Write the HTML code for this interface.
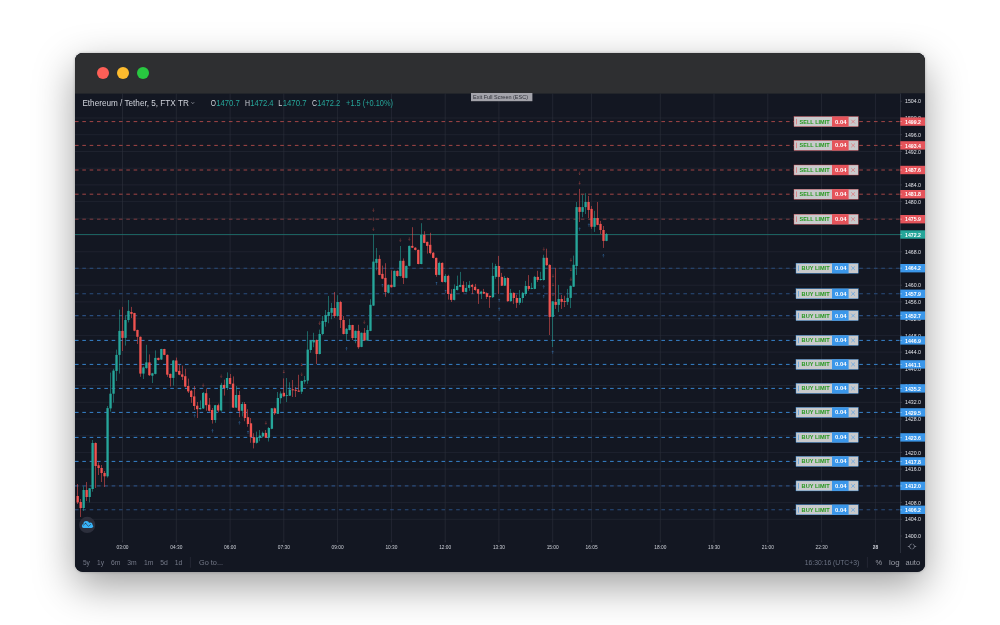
<!DOCTYPE html><html><head><meta charset="utf-8"><title>Ethereum / Tether chart</title>
<style>
html,body{margin:0;padding:0;background:#fff}
body{width:1000px;height:625px;position:relative;overflow:hidden;font-family:"Liberation Sans",sans-serif}
#win{position:absolute;left:75px;top:53px;width:850px;height:518.6px;border-radius:8px;background:#131722;
box-shadow:0 14px 40px rgba(0,0,0,.38),0 0 3px rgba(0,0,0,.25)}
svg{position:absolute;left:0;top:0}
text{font-family:"Liberation Sans",sans-serif}
</style></head><body><div id="win"></div>
<svg width="1000" height="625" viewBox="0 0 1000 625">
<defs><clipPath id="wc"><rect x="75" y="53" width="850" height="518.6" rx="8" ry="8"/></clipPath><clipPath id="pane"><rect x="75" y="93.5" width="825.3" height="447"/></clipPath></defs>
<g clip-path="url(#wc)">
<rect x="75" y="53" width="850" height="519" fill="#131722"/>
<rect x="75" y="53" width="850" height="40.6" fill="#2e2f31"/>
<circle cx="103" cy="73" r="6" fill="#fe5f57"/>
<circle cx="123" cy="73" r="6" fill="#febc2e"/>
<circle cx="143" cy="73" r="6" fill="#28c840"/>
<g stroke="#262a37" stroke-width="0.6">
<line x1="75" x2="900.3" y1="118.0" y2="118.0"/>
<line x1="75" x2="900.3" y1="134.7" y2="134.7"/>
<line x1="75" x2="900.3" y1="151.5" y2="151.5"/>
<line x1="75" x2="900.3" y1="168.2" y2="168.2"/>
<line x1="75" x2="900.3" y1="184.9" y2="184.9"/>
<line x1="75" x2="900.3" y1="201.6" y2="201.6"/>
<line x1="75" x2="900.3" y1="218.3" y2="218.3"/>
<line x1="75" x2="900.3" y1="235.1" y2="235.1"/>
<line x1="75" x2="900.3" y1="251.8" y2="251.8"/>
<line x1="75" x2="900.3" y1="268.5" y2="268.5"/>
<line x1="75" x2="900.3" y1="285.2" y2="285.2"/>
<line x1="75" x2="900.3" y1="301.9" y2="301.9"/>
<line x1="75" x2="900.3" y1="318.7" y2="318.7"/>
<line x1="75" x2="900.3" y1="335.4" y2="335.4"/>
<line x1="75" x2="900.3" y1="352.1" y2="352.1"/>
<line x1="75" x2="900.3" y1="368.8" y2="368.8"/>
<line x1="75" x2="900.3" y1="385.5" y2="385.5"/>
<line x1="75" x2="900.3" y1="402.3" y2="402.3"/>
<line x1="75" x2="900.3" y1="419.0" y2="419.0"/>
<line x1="75" x2="900.3" y1="435.7" y2="435.7"/>
<line x1="75" x2="900.3" y1="452.4" y2="452.4"/>
<line x1="75" x2="900.3" y1="469.1" y2="469.1"/>
<line x1="75" x2="900.3" y1="485.9" y2="485.9"/>
<line x1="75" x2="900.3" y1="502.6" y2="502.6"/>
<line x1="75" x2="900.3" y1="519.3" y2="519.3"/>
<line x1="122.5" x2="122.5" y1="93.5" y2="540.5" stroke="#2d313d"/>
<line x1="176.3" x2="176.3" y1="93.5" y2="540.5" stroke="#2d313d"/>
<line x1="230.1" x2="230.1" y1="93.5" y2="540.5" stroke="#2d313d"/>
<line x1="283.8" x2="283.8" y1="93.5" y2="540.5" stroke="#2d313d"/>
<line x1="337.6" x2="337.6" y1="93.5" y2="540.5" stroke="#2d313d"/>
<line x1="391.4" x2="391.4" y1="93.5" y2="540.5" stroke="#2d313d"/>
<line x1="445.2" x2="445.2" y1="93.5" y2="540.5" stroke="#2d313d"/>
<line x1="498.9" x2="498.9" y1="93.5" y2="540.5" stroke="#2d313d"/>
<line x1="552.7" x2="552.7" y1="93.5" y2="540.5" stroke="#2d313d"/>
<line x1="591.6" x2="591.6" y1="93.5" y2="540.5" stroke="#2d313d"/>
<line x1="660.3" x2="660.3" y1="93.5" y2="540.5" stroke="#2d313d"/>
<line x1="714.0" x2="714.0" y1="93.5" y2="540.5" stroke="#2d313d"/>
<line x1="767.8" x2="767.8" y1="93.5" y2="540.5" stroke="#2d313d"/>
<line x1="821.6" x2="821.6" y1="93.5" y2="540.5" stroke="#2d313d"/>
<line x1="875.4" x2="875.4" y1="93.5" y2="540.5" stroke="#2d313d"/>
</g>
<g clip-path="url(#pane)">
<line x1="75" x2="900" y1="121.6" y2="121.6" stroke="#c8524f" stroke-width="0.8" stroke-dasharray="3.6 3.73"/>
<line x1="75" x2="900" y1="145.4" y2="145.4" stroke="#c8524f" stroke-width="0.8" stroke-dasharray="3.6 3.73"/>
<line x1="75" x2="900" y1="170" y2="170" stroke="#c8524f" stroke-width="0.8" stroke-dasharray="3.6 3.73"/>
<line x1="75" x2="900" y1="194.2" y2="194.2" stroke="#c8524f" stroke-width="0.8" stroke-dasharray="3.6 3.73"/>
<line x1="75" x2="900" y1="219.2" y2="219.2" stroke="#9a454a" stroke-width="0.8" stroke-dasharray="3.6 3.73"/>
<line x1="75" x2="900" y1="268.2" y2="268.2" stroke="#2a4d7e" stroke-width="1.1" stroke-dasharray="3.6 3.73"/>
<line x1="75" x2="900" y1="293.8" y2="293.8" stroke="#2a4d7e" stroke-width="1.1" stroke-dasharray="3.6 3.73"/>
<line x1="75" x2="900" y1="315.6" y2="315.6" stroke="#2a4d7e" stroke-width="1.1" stroke-dasharray="3.6 3.73"/>
<line x1="75" x2="900" y1="340.4" y2="340.4" stroke="#3d97ec" stroke-width="0.85" stroke-dasharray="3.6 3.73"/>
<line x1="75" x2="900" y1="364.4" y2="364.4" stroke="#3d97ec" stroke-width="0.85" stroke-dasharray="3.6 3.73"/>
<line x1="75" x2="900" y1="388.4" y2="388.4" stroke="#3d97ec" stroke-width="0.85" stroke-dasharray="3.6 3.73"/>
<line x1="75" x2="900" y1="412.4" y2="412.4" stroke="#3d97ec" stroke-width="0.85" stroke-dasharray="3.6 3.73"/>
<line x1="75" x2="900" y1="437.4" y2="437.4" stroke="#3d97ec" stroke-width="0.85" stroke-dasharray="3.6 3.73"/>
<line x1="75" x2="900" y1="461.4" y2="461.4" stroke="#3d97ec" stroke-width="0.85" stroke-dasharray="3.6 3.73"/>
<line x1="75" x2="900" y1="485.9" y2="485.9" stroke="#2a4d7e" stroke-width="1.1" stroke-dasharray="3.6 3.73"/>
<line x1="75" x2="900" y1="509.8" y2="509.8" stroke="#2a4d7e" stroke-width="1.1" stroke-dasharray="3.6 3.73"/>
<line x1="75" x2="900" y1="234.5" y2="234.5" stroke="#1e7a73" stroke-width="0.75"/>
<rect x="77.20" y="484.0" width="0.55" height="20.0" fill="#ef5350"/>
<rect x="76.52" y="496.0" width="2.34" height="6.4" fill="#ef5350"/>
<rect x="80.20" y="499.0" width="0.55" height="18.0" fill="#ef5350"/>
<rect x="79.50" y="502.0" width="2.34" height="6.0" fill="#ef5350"/>
<rect x="83.20" y="486.4" width="0.55" height="24.6" fill="#26a69a"/>
<rect x="82.49" y="490.0" width="2.34" height="18.0" fill="#26a69a"/>
<rect x="86.20" y="482.0" width="0.55" height="19.0" fill="#ef5350"/>
<rect x="85.48" y="490.0" width="2.34" height="7.0" fill="#ef5350"/>
<rect x="89.20" y="488.0" width="0.55" height="14.4" fill="#26a69a"/>
<rect x="88.47" y="488.3" width="2.34" height="8.7" fill="#26a69a"/>
<rect x="92.20" y="440.0" width="0.55" height="51.7" fill="#26a69a"/>
<rect x="91.45" y="443.0" width="2.34" height="46.0" fill="#26a69a"/>
<rect x="95.20" y="442.4" width="0.55" height="45.6" fill="#ef5350"/>
<rect x="94.44" y="443.0" width="2.34" height="23.0" fill="#ef5350"/>
<rect x="98.20" y="462.4" width="0.55" height="12.6" fill="#ef5350"/>
<rect x="97.43" y="465.3" width="2.34" height="2.7" fill="#ef5350"/>
<rect x="101.20" y="465.0" width="0.55" height="17.0" fill="#ef5350"/>
<rect x="100.42" y="468.0" width="2.34" height="5.0" fill="#ef5350"/>
<rect x="104.20" y="471.0" width="0.55" height="16.0" fill="#ef5350"/>
<rect x="103.40" y="473.0" width="2.34" height="3.3" fill="#ef5350"/>
<rect x="107.20" y="406.0" width="0.55" height="71.6" fill="#26a69a"/>
<rect x="106.39" y="408.1" width="2.34" height="68.2" fill="#26a69a"/>
<rect x="110.20" y="372.6" width="0.55" height="39.0" fill="#26a69a"/>
<rect x="109.38" y="393.7" width="2.34" height="14.7" fill="#26a69a"/>
<rect x="113.20" y="368.8" width="0.55" height="33.8" fill="#26a69a"/>
<rect x="112.37" y="370.6" width="2.34" height="23.1" fill="#26a69a"/>
<rect x="116.20" y="349.6" width="0.55" height="31.4" fill="#26a69a"/>
<rect x="115.35" y="354.9" width="2.34" height="16.0" fill="#26a69a"/>
<rect x="119.20" y="309.6" width="0.55" height="64.0" fill="#26a69a"/>
<rect x="118.34" y="330.9" width="2.34" height="24.0" fill="#26a69a"/>
<rect x="122.20" y="306.9" width="0.55" height="44.1" fill="#ef5350"/>
<rect x="121.33" y="330.9" width="2.34" height="7.0" fill="#ef5350"/>
<rect x="125.20" y="315.0" width="0.55" height="30.6" fill="#26a69a"/>
<rect x="124.32" y="320.0" width="2.34" height="17.9" fill="#26a69a"/>
<rect x="128.20" y="300.0" width="0.55" height="22.4" fill="#26a69a"/>
<rect x="127.31" y="310.9" width="2.34" height="9.1" fill="#26a69a"/>
<rect x="131.20" y="306.9" width="0.55" height="11.1" fill="#ef5350"/>
<rect x="130.29" y="312.0" width="2.34" height="1.9" fill="#ef5350"/>
<rect x="134.20" y="312.8" width="0.55" height="18.4" fill="#ef5350"/>
<rect x="133.28" y="313.0" width="2.34" height="17.7" fill="#ef5350"/>
<rect x="137.20" y="329.6" width="0.55" height="14.4" fill="#ef5350"/>
<rect x="136.27" y="330.0" width="2.34" height="6.8" fill="#ef5350"/>
<rect x="140.20" y="336.5" width="0.55" height="40.3" fill="#ef5350"/>
<rect x="139.26" y="336.8" width="2.34" height="36.8" fill="#ef5350"/>
<rect x="143.20" y="366.4" width="0.55" height="12.6" fill="#26a69a"/>
<rect x="142.24" y="367.5" width="2.34" height="6.1" fill="#26a69a"/>
<rect x="146.20" y="344.8" width="0.55" height="24.0" fill="#26a69a"/>
<rect x="145.23" y="362.4" width="2.34" height="5.6" fill="#26a69a"/>
<rect x="149.20" y="354.4" width="0.55" height="21.6" fill="#ef5350"/>
<rect x="148.22" y="362.4" width="2.34" height="12.8" fill="#ef5350"/>
<rect x="152.20" y="372.8" width="0.55" height="10.2" fill="#26a69a"/>
<rect x="151.21" y="373.3" width="2.34" height="2.4" fill="#26a69a"/>
<rect x="155.20" y="350.4" width="0.55" height="24.0" fill="#26a69a"/>
<rect x="154.19" y="357.9" width="2.34" height="16.0" fill="#26a69a"/>
<rect x="158.20" y="357.6" width="0.55" height="2.9" fill="#ef5350"/>
<rect x="157.18" y="357.9" width="2.34" height="2.1" fill="#ef5350"/>
<rect x="161.20" y="348.8" width="0.55" height="11.2" fill="#26a69a"/>
<rect x="160.17" y="349.0" width="2.34" height="10.5" fill="#26a69a"/>
<rect x="164.20" y="348.8" width="0.55" height="6.4" fill="#ef5350"/>
<rect x="163.16" y="349.0" width="2.34" height="5.9" fill="#ef5350"/>
<rect x="167.20" y="354.4" width="0.55" height="22.4" fill="#ef5350"/>
<rect x="166.14" y="354.9" width="2.34" height="19.8" fill="#ef5350"/>
<rect x="170.20" y="373.6" width="0.55" height="12.8" fill="#ef5350"/>
<rect x="169.13" y="373.9" width="2.34" height="4.0" fill="#ef5350"/>
<rect x="173.20" y="360.0" width="0.55" height="25.6" fill="#26a69a"/>
<rect x="172.12" y="360.5" width="2.34" height="17.4" fill="#26a69a"/>
<rect x="176.20" y="357.6" width="0.55" height="14.4" fill="#ef5350"/>
<rect x="175.11" y="360.5" width="2.34" height="11.2" fill="#ef5350"/>
<rect x="179.20" y="364.8" width="0.55" height="10.4" fill="#ef5350"/>
<rect x="178.09" y="370.9" width="2.34" height="3.8" fill="#ef5350"/>
<rect x="182.20" y="365.6" width="0.55" height="14.4" fill="#ef5350"/>
<rect x="181.08" y="374.4" width="2.34" height="2.4" fill="#ef5350"/>
<rect x="185.20" y="368.8" width="0.55" height="18.4" fill="#ef5350"/>
<rect x="184.07" y="376.2" width="2.34" height="10.4" fill="#ef5350"/>
<rect x="188.20" y="378.6" width="0.55" height="14.4" fill="#ef5350"/>
<rect x="187.06" y="386.0" width="2.34" height="5.4" fill="#ef5350"/>
<rect x="191.20" y="390.0" width="0.55" height="12.8" fill="#ef5350"/>
<rect x="190.04" y="390.8" width="2.34" height="6.2" fill="#ef5350"/>
<rect x="194.20" y="386.0" width="0.55" height="24.0" fill="#ef5350"/>
<rect x="193.03" y="396.4" width="2.34" height="9.6" fill="#ef5350"/>
<rect x="197.20" y="402.0" width="0.55" height="16.0" fill="#ef5350"/>
<rect x="196.02" y="405.7" width="2.34" height="3.5" fill="#ef5350"/>
<rect x="200.20" y="400.4" width="0.55" height="9.1" fill="#26a69a"/>
<rect x="199.01" y="408.0" width="2.34" height="1.2" fill="#26a69a"/>
<rect x="203.20" y="392.0" width="0.55" height="17.0" fill="#26a69a"/>
<rect x="202.00" y="392.9" width="2.34" height="15.5" fill="#26a69a"/>
<rect x="206.20" y="388.4" width="0.55" height="22.4" fill="#ef5350"/>
<rect x="204.98" y="393.2" width="2.34" height="12.0" fill="#ef5350"/>
<rect x="209.20" y="398.0" width="0.55" height="13.6" fill="#ef5350"/>
<rect x="207.97" y="404.7" width="2.34" height="6.1" fill="#ef5350"/>
<rect x="212.20" y="408.0" width="0.55" height="15.6" fill="#ef5350"/>
<rect x="210.96" y="410.0" width="2.34" height="10.0" fill="#ef5350"/>
<rect x="215.20" y="404.9" width="0.55" height="17.9" fill="#26a69a"/>
<rect x="213.95" y="405.2" width="2.34" height="14.8" fill="#26a69a"/>
<rect x="218.20" y="403.6" width="0.55" height="8.8" fill="#ef5350"/>
<rect x="216.93" y="405.2" width="2.34" height="5.3" fill="#ef5350"/>
<rect x="221.20" y="382.8" width="0.55" height="28.8" fill="#26a69a"/>
<rect x="219.92" y="384.9" width="2.34" height="25.6" fill="#26a69a"/>
<rect x="224.20" y="379.6" width="0.55" height="16.0" fill="#ef5350"/>
<rect x="222.91" y="384.9" width="2.34" height="3.1" fill="#ef5350"/>
<rect x="227.20" y="372.4" width="0.55" height="17.6" fill="#26a69a"/>
<rect x="225.90" y="378.0" width="2.34" height="10.0" fill="#26a69a"/>
<rect x="230.20" y="374.0" width="0.55" height="10.4" fill="#ef5350"/>
<rect x="228.88" y="378.0" width="2.34" height="6.0" fill="#ef5350"/>
<rect x="233.20" y="376.4" width="0.55" height="31.6" fill="#ef5350"/>
<rect x="231.87" y="383.6" width="2.34" height="24.0" fill="#ef5350"/>
<rect x="236.20" y="386.0" width="0.55" height="22.0" fill="#26a69a"/>
<rect x="234.86" y="395.0" width="2.34" height="12.6" fill="#26a69a"/>
<rect x="239.20" y="390.8" width="0.55" height="26.4" fill="#ef5350"/>
<rect x="237.85" y="395.0" width="2.34" height="15.8" fill="#ef5350"/>
<rect x="242.20" y="402.0" width="0.55" height="14.4" fill="#26a69a"/>
<rect x="240.83" y="404.0" width="2.34" height="6.8" fill="#26a69a"/>
<rect x="244.20" y="402.0" width="0.55" height="19.2" fill="#ef5350"/>
<rect x="243.82" y="404.0" width="2.34" height="14.0" fill="#ef5350"/>
<rect x="247.20" y="409.2" width="0.55" height="17.6" fill="#ef5350"/>
<rect x="246.81" y="417.2" width="2.34" height="6.8" fill="#ef5350"/>
<rect x="250.20" y="418.0" width="0.55" height="24.8" fill="#ef5350"/>
<rect x="249.80" y="423.3" width="2.34" height="13.9" fill="#ef5350"/>
<rect x="253.20" y="433.2" width="0.55" height="15.2" fill="#ef5350"/>
<rect x="252.78" y="437.2" width="2.34" height="5.6" fill="#ef5350"/>
<rect x="256.20" y="431.6" width="0.55" height="12.0" fill="#26a69a"/>
<rect x="255.77" y="437.2" width="2.34" height="5.6" fill="#26a69a"/>
<rect x="259.20" y="430.0" width="0.55" height="11.2" fill="#26a69a"/>
<rect x="258.76" y="435.6" width="2.34" height="2.1" fill="#26a69a"/>
<rect x="262.20" y="431.6" width="0.55" height="6.1" fill="#26a69a"/>
<rect x="261.75" y="432.9" width="2.34" height="3.5" fill="#26a69a"/>
<rect x="265.20" y="430.0" width="0.55" height="8.0" fill="#ef5350"/>
<rect x="264.73" y="432.9" width="2.34" height="4.8" fill="#ef5350"/>
<rect x="268.20" y="427.0" width="0.55" height="14.5" fill="#26a69a"/>
<rect x="267.72" y="428.0" width="2.34" height="9.7" fill="#26a69a"/>
<rect x="271.20" y="408.0" width="0.55" height="21.2" fill="#26a69a"/>
<rect x="270.71" y="408.3" width="2.34" height="20.5" fill="#26a69a"/>
<rect x="274.20" y="407.6" width="0.55" height="7.4" fill="#ef5350"/>
<rect x="273.70" y="408.3" width="2.34" height="5.0" fill="#ef5350"/>
<rect x="277.20" y="392.0" width="0.55" height="22.0" fill="#26a69a"/>
<rect x="276.69" y="398.0" width="2.34" height="15.8" fill="#26a69a"/>
<rect x="280.20" y="391.4" width="0.55" height="12.2" fill="#26a69a"/>
<rect x="279.67" y="393.5" width="2.34" height="4.7" fill="#26a69a"/>
<rect x="283.20" y="378.4" width="0.55" height="18.3" fill="#ef5350"/>
<rect x="282.66" y="392.8" width="2.34" height="3.5" fill="#ef5350"/>
<rect x="286.20" y="378.0" width="0.55" height="24.0" fill="#26a69a"/>
<rect x="285.65" y="395.0" width="2.34" height="0.8" fill="#26a69a"/>
<rect x="289.20" y="382.3" width="0.55" height="13.7" fill="#26a69a"/>
<rect x="288.64" y="389.6" width="2.34" height="6.1" fill="#26a69a"/>
<rect x="292.20" y="380.0" width="0.55" height="17.0" fill="#ef5350"/>
<rect x="291.62" y="389.3" width="2.34" height="1.0" fill="#ef5350"/>
<rect x="295.20" y="387.0" width="0.55" height="10.0" fill="#ef5350"/>
<rect x="294.61" y="389.8" width="2.34" height="1.0" fill="#ef5350"/>
<rect x="298.20" y="374.8" width="0.55" height="17.2" fill="#ef5350"/>
<rect x="297.60" y="390.6" width="2.34" height="1.1" fill="#ef5350"/>
<rect x="301.20" y="380.6" width="0.55" height="13.4" fill="#26a69a"/>
<rect x="300.59" y="381.0" width="2.34" height="10.7" fill="#26a69a"/>
<rect x="304.20" y="376.0" width="0.55" height="7.8" fill="#26a69a"/>
<rect x="303.57" y="380.2" width="2.34" height="1.3" fill="#26a69a"/>
<rect x="307.20" y="331.2" width="0.55" height="52.6" fill="#26a69a"/>
<rect x="306.56" y="349.6" width="2.34" height="31.0" fill="#26a69a"/>
<rect x="310.20" y="340.0" width="0.55" height="12.8" fill="#26a69a"/>
<rect x="309.55" y="340.5" width="2.34" height="9.5" fill="#26a69a"/>
<rect x="313.20" y="332.8" width="0.55" height="14.4" fill="#26a69a"/>
<rect x="312.54" y="340.0" width="2.34" height="2.4" fill="#26a69a"/>
<rect x="316.20" y="339.5" width="0.55" height="24.5" fill="#ef5350"/>
<rect x="315.52" y="340.0" width="2.34" height="14.0" fill="#ef5350"/>
<rect x="319.20" y="329.6" width="0.55" height="24.8" fill="#26a69a"/>
<rect x="318.51" y="334.0" width="2.34" height="20.0" fill="#26a69a"/>
<rect x="322.20" y="316.0" width="0.55" height="19.2" fill="#26a69a"/>
<rect x="321.50" y="321.0" width="2.34" height="13.0" fill="#26a69a"/>
<rect x="325.20" y="310.0" width="0.55" height="16.7" fill="#26a69a"/>
<rect x="324.49" y="315.2" width="2.34" height="6.8" fill="#26a69a"/>
<rect x="328.20" y="296.0" width="0.55" height="27.2" fill="#26a69a"/>
<rect x="327.47" y="312.0" width="2.34" height="4.0" fill="#26a69a"/>
<rect x="331.20" y="302.9" width="0.55" height="16.3" fill="#26a69a"/>
<rect x="330.46" y="308.0" width="2.34" height="4.8" fill="#26a69a"/>
<rect x="334.20" y="292.0" width="0.55" height="26.0" fill="#ef5350"/>
<rect x="333.45" y="308.0" width="2.34" height="8.0" fill="#ef5350"/>
<rect x="337.20" y="295.2" width="0.55" height="21.6" fill="#26a69a"/>
<rect x="336.44" y="302.0" width="2.34" height="14.0" fill="#26a69a"/>
<rect x="340.20" y="300.8" width="0.55" height="27.2" fill="#ef5350"/>
<rect x="339.42" y="302.0" width="2.34" height="18.0" fill="#ef5350"/>
<rect x="343.20" y="316.0" width="0.55" height="18.4" fill="#ef5350"/>
<rect x="342.41" y="320.0" width="2.34" height="14.0" fill="#ef5350"/>
<rect x="346.20" y="328.0" width="0.55" height="12.0" fill="#26a69a"/>
<rect x="345.40" y="328.8" width="2.34" height="5.2" fill="#26a69a"/>
<rect x="349.20" y="318.9" width="0.55" height="11.5" fill="#26a69a"/>
<rect x="348.39" y="325.0" width="2.34" height="5.0" fill="#26a69a"/>
<rect x="352.20" y="324.8" width="0.55" height="15.2" fill="#ef5350"/>
<rect x="351.38" y="325.0" width="2.34" height="13.0" fill="#ef5350"/>
<rect x="355.20" y="330.4" width="0.55" height="12.8" fill="#26a69a"/>
<rect x="354.36" y="330.9" width="2.34" height="7.1" fill="#26a69a"/>
<rect x="358.20" y="324.8" width="0.55" height="24.0" fill="#ef5350"/>
<rect x="357.35" y="330.9" width="2.34" height="16.3" fill="#ef5350"/>
<rect x="361.20" y="332.5" width="0.55" height="14.7" fill="#26a69a"/>
<rect x="360.34" y="332.8" width="2.34" height="14.1" fill="#26a69a"/>
<rect x="364.20" y="328.0" width="0.55" height="12.8" fill="#ef5350"/>
<rect x="363.33" y="332.8" width="2.34" height="7.7" fill="#ef5350"/>
<rect x="367.20" y="325.3" width="0.55" height="15.5" fill="#26a69a"/>
<rect x="366.31" y="330.0" width="2.34" height="10.5" fill="#26a69a"/>
<rect x="370.20" y="299.2" width="0.55" height="32.0" fill="#26a69a"/>
<rect x="369.30" y="304.8" width="2.34" height="26.1" fill="#26a69a"/>
<rect x="373.20" y="234.4" width="0.55" height="71.6" fill="#26a69a"/>
<rect x="372.29" y="261.6" width="2.34" height="44.0" fill="#26a69a"/>
<rect x="376.20" y="248.0" width="0.55" height="22.4" fill="#26a69a"/>
<rect x="375.28" y="258.9" width="2.34" height="4.0" fill="#26a69a"/>
<rect x="379.20" y="255.2" width="0.55" height="20.0" fill="#ef5350"/>
<rect x="378.26" y="258.9" width="2.34" height="16.0" fill="#ef5350"/>
<rect x="382.20" y="265.6" width="0.55" height="13.6" fill="#ef5350"/>
<rect x="381.25" y="273.9" width="2.34" height="4.8" fill="#ef5350"/>
<rect x="385.20" y="263.2" width="0.55" height="33.6" fill="#ef5350"/>
<rect x="384.24" y="277.9" width="2.34" height="14.1" fill="#ef5350"/>
<rect x="388.20" y="284.5" width="0.55" height="9.1" fill="#26a69a"/>
<rect x="387.23" y="284.8" width="2.34" height="8.0" fill="#26a69a"/>
<rect x="391.20" y="270.4" width="0.55" height="17.3" fill="#ef5350"/>
<rect x="390.21" y="284.8" width="2.34" height="2.4" fill="#ef5350"/>
<rect x="394.20" y="270.4" width="0.55" height="16.8" fill="#26a69a"/>
<rect x="393.20" y="270.9" width="2.34" height="16.0" fill="#26a69a"/>
<rect x="397.20" y="270.4" width="0.55" height="6.4" fill="#ef5350"/>
<rect x="396.19" y="270.9" width="2.34" height="5.1" fill="#ef5350"/>
<rect x="400.20" y="246.0" width="0.55" height="30.5" fill="#26a69a"/>
<rect x="399.18" y="260.8" width="2.34" height="15.2" fill="#26a69a"/>
<rect x="403.20" y="258.4" width="0.55" height="25.6" fill="#ef5350"/>
<rect x="402.16" y="260.8" width="2.34" height="17.1" fill="#ef5350"/>
<rect x="406.20" y="265.6" width="0.55" height="12.8" fill="#26a69a"/>
<rect x="405.15" y="265.9" width="2.34" height="12.0" fill="#26a69a"/>
<rect x="409.20" y="245.6" width="0.55" height="20.8" fill="#26a69a"/>
<rect x="408.14" y="245.9" width="2.34" height="20.0" fill="#26a69a"/>
<rect x="412.20" y="227.2" width="0.55" height="20.8" fill="#ef5350"/>
<rect x="411.13" y="245.9" width="2.34" height="1.8" fill="#ef5350"/>
<rect x="415.20" y="247.2" width="0.55" height="3.2" fill="#ef5350"/>
<rect x="414.11" y="247.7" width="2.34" height="2.2" fill="#ef5350"/>
<rect x="418.20" y="249.6" width="0.55" height="14.7" fill="#ef5350"/>
<rect x="417.10" y="249.9" width="2.34" height="14.1" fill="#ef5350"/>
<rect x="421.20" y="223.2" width="0.55" height="41.1" fill="#26a69a"/>
<rect x="420.09" y="234.9" width="2.34" height="29.1" fill="#26a69a"/>
<rect x="424.20" y="231.2" width="0.55" height="12.0" fill="#ef5350"/>
<rect x="423.08" y="234.9" width="2.34" height="8.0" fill="#ef5350"/>
<rect x="427.20" y="241.6" width="0.55" height="12.0" fill="#ef5350"/>
<rect x="426.07" y="241.9" width="2.34" height="4.0" fill="#ef5350"/>
<rect x="430.20" y="232.8" width="0.55" height="21.6" fill="#ef5350"/>
<rect x="429.05" y="244.8" width="2.34" height="8.3" fill="#ef5350"/>
<rect x="433.20" y="252.0" width="0.55" height="6.4" fill="#ef5350"/>
<rect x="432.04" y="252.8" width="2.34" height="5.1" fill="#ef5350"/>
<rect x="436.20" y="257.6" width="0.55" height="19.2" fill="#ef5350"/>
<rect x="435.03" y="257.9" width="2.34" height="17.0" fill="#ef5350"/>
<rect x="439.20" y="261.6" width="0.55" height="13.6" fill="#26a69a"/>
<rect x="438.02" y="262.9" width="2.34" height="12.0" fill="#26a69a"/>
<rect x="442.20" y="262.4" width="0.55" height="20.0" fill="#ef5350"/>
<rect x="441.00" y="262.9" width="2.34" height="19.0" fill="#ef5350"/>
<rect x="445.20" y="274.0" width="0.55" height="8.8" fill="#26a69a"/>
<rect x="443.99" y="275.9" width="2.34" height="6.1" fill="#26a69a"/>
<rect x="448.20" y="274.8" width="0.55" height="24.8" fill="#ef5350"/>
<rect x="446.98" y="275.9" width="2.34" height="18.1" fill="#ef5350"/>
<rect x="451.20" y="289.2" width="0.55" height="12.8" fill="#ef5350"/>
<rect x="449.97" y="294.0" width="2.34" height="5.9" fill="#ef5350"/>
<rect x="454.20" y="284.4" width="0.55" height="16.0" fill="#26a69a"/>
<rect x="452.95" y="288.9" width="2.34" height="11.0" fill="#26a69a"/>
<rect x="457.20" y="275.6" width="0.55" height="14.9" fill="#26a69a"/>
<rect x="455.94" y="286.0" width="2.34" height="4.0" fill="#26a69a"/>
<rect x="460.20" y="271.9" width="0.55" height="15.1" fill="#26a69a"/>
<rect x="458.93" y="284.9" width="2.34" height="1.9" fill="#26a69a"/>
<rect x="463.20" y="281.2" width="0.55" height="11.2" fill="#ef5350"/>
<rect x="461.92" y="284.9" width="2.34" height="7.0" fill="#ef5350"/>
<rect x="466.20" y="282.0" width="0.55" height="10.4" fill="#26a69a"/>
<rect x="464.90" y="287.9" width="2.34" height="4.0" fill="#26a69a"/>
<rect x="469.20" y="280.9" width="0.55" height="9.9" fill="#26a69a"/>
<rect x="467.89" y="284.9" width="2.34" height="3.0" fill="#26a69a"/>
<rect x="472.20" y="283.9" width="0.55" height="10.1" fill="#ef5350"/>
<rect x="470.88" y="284.9" width="2.34" height="1.9" fill="#ef5350"/>
<rect x="475.20" y="283.9" width="0.55" height="6.9" fill="#ef5350"/>
<rect x="473.87" y="286.8" width="2.34" height="3.2" fill="#ef5350"/>
<rect x="478.20" y="288.9" width="0.55" height="15.0" fill="#ef5350"/>
<rect x="476.85" y="289.2" width="2.34" height="4.5" fill="#ef5350"/>
<rect x="481.20" y="290.8" width="0.55" height="8.2" fill="#26a69a"/>
<rect x="479.84" y="291.6" width="2.34" height="2.1" fill="#26a69a"/>
<rect x="483.20" y="288.9" width="0.55" height="5.1" fill="#ef5350"/>
<rect x="482.83" y="291.9" width="2.34" height="1.8" fill="#ef5350"/>
<rect x="486.20" y="292.4" width="0.55" height="6.6" fill="#ef5350"/>
<rect x="485.82" y="293.2" width="2.34" height="3.7" fill="#ef5350"/>
<rect x="489.20" y="295.6" width="0.55" height="12.3" fill="#ef5350"/>
<rect x="488.80" y="295.9" width="2.34" height="1.3" fill="#ef5350"/>
<rect x="492.20" y="262.8" width="0.55" height="35.2" fill="#26a69a"/>
<rect x="491.79" y="275.9" width="2.34" height="21.3" fill="#26a69a"/>
<rect x="495.20" y="263.9" width="0.55" height="14.9" fill="#26a69a"/>
<rect x="494.78" y="266.0" width="2.34" height="10.9" fill="#26a69a"/>
<rect x="498.20" y="255.9" width="0.55" height="38.1" fill="#ef5350"/>
<rect x="497.77" y="266.0" width="2.34" height="10.9" fill="#ef5350"/>
<rect x="501.20" y="272.9" width="0.55" height="13.1" fill="#ef5350"/>
<rect x="500.76" y="276.9" width="2.34" height="8.8" fill="#ef5350"/>
<rect x="504.20" y="275.9" width="0.55" height="10.1" fill="#26a69a"/>
<rect x="503.74" y="278.0" width="2.34" height="7.7" fill="#26a69a"/>
<rect x="507.20" y="277.2" width="0.55" height="24.5" fill="#ef5350"/>
<rect x="506.73" y="278.0" width="2.34" height="23.2" fill="#ef5350"/>
<rect x="510.20" y="288.9" width="0.55" height="12.8" fill="#26a69a"/>
<rect x="509.72" y="292.9" width="2.34" height="8.3" fill="#26a69a"/>
<rect x="513.20" y="292.4" width="0.55" height="11.5" fill="#ef5350"/>
<rect x="512.71" y="292.9" width="2.34" height="5.1" fill="#ef5350"/>
<rect x="516.20" y="294.8" width="0.55" height="13.1" fill="#ef5350"/>
<rect x="515.69" y="298.0" width="2.34" height="4.8" fill="#ef5350"/>
<rect x="519.20" y="290.0" width="0.55" height="14.9" fill="#26a69a"/>
<rect x="518.68" y="298.0" width="2.34" height="4.8" fill="#26a69a"/>
<rect x="522.20" y="291.9" width="0.55" height="10.9" fill="#26a69a"/>
<rect x="521.67" y="292.9" width="2.34" height="5.1" fill="#26a69a"/>
<rect x="525.20" y="280.9" width="0.55" height="15.0" fill="#26a69a"/>
<rect x="524.66" y="286.0" width="2.34" height="8.0" fill="#26a69a"/>
<rect x="528.20" y="275.1" width="0.55" height="15.7" fill="#ef5350"/>
<rect x="527.64" y="286.0" width="2.34" height="2.9" fill="#ef5350"/>
<rect x="531.20" y="282.8" width="0.55" height="6.4" fill="#26a69a"/>
<rect x="530.63" y="287.9" width="2.34" height="1.0" fill="#26a69a"/>
<rect x="534.20" y="275.9" width="0.55" height="13.3" fill="#26a69a"/>
<rect x="533.62" y="276.9" width="2.34" height="12.0" fill="#26a69a"/>
<rect x="537.20" y="270.8" width="0.55" height="11.2" fill="#ef5350"/>
<rect x="536.61" y="276.9" width="2.34" height="3.0" fill="#ef5350"/>
<rect x="540.20" y="271.8" width="0.55" height="8.8" fill="#26a69a"/>
<rect x="539.59" y="279.0" width="2.34" height="1.0" fill="#26a69a"/>
<rect x="543.20" y="254.8" width="0.55" height="25.8" fill="#26a69a"/>
<rect x="542.58" y="257.8" width="2.34" height="22.2" fill="#26a69a"/>
<rect x="546.20" y="248.7" width="0.55" height="17.0" fill="#ef5350"/>
<rect x="545.57" y="257.8" width="2.34" height="7.4" fill="#ef5350"/>
<rect x="549.20" y="264.3" width="0.55" height="70.7" fill="#ef5350"/>
<rect x="548.56" y="264.9" width="2.34" height="52.0" fill="#ef5350"/>
<rect x="552.20" y="301.0" width="0.55" height="46.0" fill="#26a69a"/>
<rect x="551.54" y="301.4" width="2.34" height="15.5" fill="#26a69a"/>
<rect x="555.20" y="267.8" width="0.55" height="41.1" fill="#ef5350"/>
<rect x="554.53" y="301.9" width="2.34" height="3.0" fill="#ef5350"/>
<rect x="558.20" y="284.9" width="0.55" height="27.2" fill="#26a69a"/>
<rect x="557.52" y="299.0" width="2.34" height="5.9" fill="#26a69a"/>
<rect x="561.20" y="295.0" width="0.55" height="13.9" fill="#ef5350"/>
<rect x="560.51" y="299.0" width="2.34" height="2.9" fill="#ef5350"/>
<rect x="564.20" y="295.8" width="0.55" height="11.2" fill="#ef5350"/>
<rect x="563.49" y="301.0" width="2.34" height="0.9" fill="#ef5350"/>
<rect x="567.20" y="288.9" width="0.55" height="16.0" fill="#26a69a"/>
<rect x="566.48" y="297.9" width="2.34" height="4.0" fill="#26a69a"/>
<rect x="570.20" y="285.4" width="0.55" height="22.7" fill="#26a69a"/>
<rect x="569.47" y="285.9" width="2.34" height="12.0" fill="#26a69a"/>
<rect x="573.20" y="255.6" width="0.55" height="31.4" fill="#26a69a"/>
<rect x="572.46" y="264.8" width="2.34" height="21.9" fill="#26a69a"/>
<rect x="576.20" y="202.0" width="0.55" height="73.0" fill="#26a69a"/>
<rect x="575.45" y="207.1" width="2.34" height="58.9" fill="#26a69a"/>
<rect x="579.20" y="188.9" width="0.55" height="33.1" fill="#ef5350"/>
<rect x="578.43" y="207.1" width="2.34" height="4.8" fill="#ef5350"/>
<rect x="582.20" y="194.8" width="0.55" height="22.4" fill="#26a69a"/>
<rect x="581.42" y="207.1" width="2.34" height="4.8" fill="#26a69a"/>
<rect x="585.20" y="193.2" width="0.55" height="20.8" fill="#26a69a"/>
<rect x="584.41" y="202.0" width="2.34" height="5.1" fill="#26a69a"/>
<rect x="588.20" y="195.9" width="0.55" height="22.1" fill="#ef5350"/>
<rect x="587.40" y="202.0" width="2.34" height="8.0" fill="#ef5350"/>
<rect x="591.20" y="206.0" width="0.55" height="22.9" fill="#ef5350"/>
<rect x="590.38" y="208.9" width="2.34" height="17.9" fill="#ef5350"/>
<rect x="594.20" y="210.8" width="0.55" height="21.1" fill="#26a69a"/>
<rect x="593.37" y="218.0" width="2.34" height="8.8" fill="#26a69a"/>
<rect x="597.20" y="202.0" width="0.55" height="23.2" fill="#ef5350"/>
<rect x="596.36" y="218.0" width="2.34" height="6.9" fill="#ef5350"/>
<rect x="600.20" y="220.9" width="0.55" height="13.1" fill="#ef5350"/>
<rect x="599.35" y="223.9" width="2.34" height="6.1" fill="#ef5350"/>
<rect x="603.20" y="226.0" width="0.55" height="21.9" fill="#ef5350"/>
<rect x="602.33" y="230.0" width="2.34" height="10.9" fill="#ef5350"/>
<rect x="606.20" y="232.9" width="0.55" height="8.3" fill="#26a69a"/>
<rect x="605.32" y="234.0" width="2.34" height="6.9" fill="#26a69a"/>
<path d="M203.2 383.4V386.3M202.4 385.4L203.2 386.5L204.0 385.4" stroke="#d9534f" stroke-width="0.45" fill="none" opacity=".75"/>
<path d="M221.2 374.4V377.3M220.4 376.4L221.2 377.5L222.0 376.4" stroke="#d9534f" stroke-width="0.45" fill="none" opacity=".75"/>
<path d="M194.6 417.6V414.7M193.8 415.6L194.6 414.5L195.4 415.6" stroke="#3f8fe0" stroke-width="0.45" fill="none" opacity=".75"/>
<path d="M212.5 432.6V429.7M211.7 430.6L212.5 429.5L213.3 430.6" stroke="#3f8fe0" stroke-width="0.45" fill="none" opacity=".75"/>
<path d="M239.4 424.6V421.7M238.6 422.6L239.4 421.5L240.2 422.6" stroke="#3f8fe0" stroke-width="0.45" fill="none" opacity=".75"/>
<path d="M248.0 434.0V431.1M247.2 432.0L248.0 430.9L248.8 432.0" stroke="#3f8fe0" stroke-width="0.45" fill="none" opacity=".75"/>
<path d="M265.9 421.2V424.1M265.1 423.2L265.9 424.3L266.7 423.2" stroke="#d9534f" stroke-width="0.45" fill="none" opacity=".75"/>
<path d="M283.8 370.0V372.9M283.0 372.0L283.8 373.1L284.6 372.0" stroke="#d9534f" stroke-width="0.45" fill="none" opacity=".75"/>
<path d="M301.7 363.0V365.9M300.9 365.0L301.7 366.1L302.5 365.0" stroke="#d9534f" stroke-width="0.45" fill="none" opacity=".75"/>
<path d="M301.7 372.6V375.5M300.9 374.6L301.7 375.7L302.5 374.6" stroke="#d9534f" stroke-width="0.45" fill="none" opacity=".75"/>
<path d="M319.5 321.4V324.3M318.7 323.4L319.5 324.5L320.3 323.4" stroke="#d9534f" stroke-width="0.45" fill="none" opacity=".75"/>
<path d="M364.3 320.4V323.3M363.5 322.4L364.3 323.5L365.1 322.4" stroke="#d9534f" stroke-width="0.45" fill="none" opacity=".75"/>
<path d="M346.5 350.4V347.5M345.7 348.4L346.5 347.3L347.3 348.4" stroke="#3f8fe0" stroke-width="0.45" fill="none" opacity=".75"/>
<path d="M373.4 208.4V211.3M372.6 210.4L373.4 211.5L374.2 210.4" stroke="#d9534f" stroke-width="0.45" fill="none" opacity=".75"/>
<path d="M373.4 217.4V220.3M372.6 219.4L373.4 220.5L374.2 219.4" stroke="#d9534f" stroke-width="0.45" fill="none" opacity=".75"/>
<path d="M373.4 227.4V230.3M372.6 229.4L373.4 230.5L374.2 229.4" stroke="#d9534f" stroke-width="0.45" fill="none" opacity=".75"/>
<path d="M400.3 238.4V241.3M399.5 240.4L400.3 241.5L401.1 240.4" stroke="#d9534f" stroke-width="0.45" fill="none" opacity=".75"/>
<path d="M409.3 237.3V240.2M408.5 239.3L409.3 240.4L410.1 239.3" stroke="#d9534f" stroke-width="0.45" fill="none" opacity=".75"/>
<path d="M382.4 287.2V284.3M381.6 285.2L382.4 284.1L383.2 285.2" stroke="#3f8fe0" stroke-width="0.45" fill="none" opacity=".75"/>
<path d="M436.5 285.1V282.2M435.7 283.1L436.5 282.0L437.3 283.1" stroke="#3f8fe0" stroke-width="0.45" fill="none" opacity=".75"/>
<path d="M445.6 293.1V290.2M444.8 291.1L445.6 290.0L446.4 291.1" stroke="#3f8fe0" stroke-width="0.45" fill="none" opacity=".75"/>
<path d="M499.2 302.0V299.1M498.4 300.0L499.2 298.9L500.0 300.0" stroke="#3f8fe0" stroke-width="0.45" fill="none" opacity=".75"/>
<path d="M499.2 310.8V307.9M498.4 308.8L499.2 307.7L500.0 308.8" stroke="#3f8fe0" stroke-width="0.45" fill="none" opacity=".75"/>
<path d="M499.2 320.9V318.0M498.4 318.9L499.2 317.8L500.0 318.9" stroke="#3f8fe0" stroke-width="0.45" fill="none" opacity=".75"/>
<path d="M553.0 274.2V277.1M552.2 276.2L553.0 277.3L553.8 276.2" stroke="#d9534f" stroke-width="0.45" fill="none" opacity=".75"/>
<path d="M553.0 283.0V285.9M552.2 285.0L553.0 286.1L553.8 285.0" stroke="#d9534f" stroke-width="0.45" fill="none" opacity=".75"/>
<path d="M553.0 292.6V295.5M552.2 294.6L553.0 295.7L553.8 294.6" stroke="#d9534f" stroke-width="0.45" fill="none" opacity=".75"/>
<path d="M570.9 258.2V261.1M570.1 260.2L570.9 261.3L571.7 260.2" stroke="#d9534f" stroke-width="0.45" fill="none" opacity=".75"/>
<path d="M570.9 267.8V270.7M570.1 269.8L570.9 270.9L571.7 269.8" stroke="#d9534f" stroke-width="0.45" fill="none" opacity=".75"/>
<path d="M570.9 277.4V280.3M570.1 279.4L570.9 280.5L571.7 279.4" stroke="#d9534f" stroke-width="0.45" fill="none" opacity=".75"/>
<path d="M543.7 288.6V285.7M542.9 286.6L543.7 285.5L544.5 286.6" stroke="#3f8fe0" stroke-width="0.45" fill="none" opacity=".75"/>
<path d="M543.7 298.2V295.3M542.9 296.2L543.7 295.1L544.5 296.2" stroke="#3f8fe0" stroke-width="0.45" fill="none" opacity=".75"/>
<path d="M552.7 353.9V351.0M551.9 351.9L552.7 350.8L553.5 351.9" stroke="#3f8fe0" stroke-width="0.45" fill="none" opacity=".75"/>
<path d="M603.4 257.4V254.5M602.6 255.4L603.4 254.3L604.2 255.4" stroke="#3f8fe0" stroke-width="0.45" fill="none" opacity=".75"/>
<path d="M579.6 171.6V174.5M578.8 173.6L579.6 174.7L580.4 173.6" stroke="#d9534f" stroke-width="0.45" fill="none" opacity=".75"/>
<path d="M579.6 181.2V184.1M578.8 183.2L579.6 184.3L580.4 183.2" stroke="#d9534f" stroke-width="0.45" fill="none" opacity=".75"/>
<path d="M579.6 230.8V227.9M578.8 228.8L579.6 227.7L580.4 228.8" stroke="#3f8fe0" stroke-width="0.45" fill="none" opacity=".75"/>
<path d="M588.9 226.8V223.9M588.1 224.8L588.9 223.7L589.7 224.8" stroke="#3f8fe0" stroke-width="0.45" fill="none" opacity=".75"/>
<path d="M543.8 247.3V250.2M543.0 249.3L543.8 250.4L544.6 249.3" stroke="#d9534f" stroke-width="0.45" fill="none" opacity=".75"/>
<rect x="794" y="116.6" width="64.2" height="10.0" fill="#c9cacc" stroke="#e5545b" stroke-width="0.4"/>
<rect x="832" y="116.6" width="16.6" height="10.0" fill="#e5545b"/>
<rect x="796.3" y="118.8" width="0.6" height="5.6" fill="#e5545b"/>
<text x="799.6" y="123.6" font-size="5.8" font-weight="700" fill="#23981c" textLength="30" lengthAdjust="spacingAndGlyphs">SELL LIMIT</text>
<text x="835" y="123.6" font-size="5.9" font-weight="700" fill="#fff" textLength="11.4" lengthAdjust="spacingAndGlyphs">0.04</text>
<path d="M851.2 119.7L855 123.5M855 119.7L851.2 123.5" stroke="#e5545b" stroke-width="0.55"/>
<rect x="794" y="140.4" width="64.2" height="10.0" fill="#c9cacc" stroke="#e5545b" stroke-width="0.4"/>
<rect x="832" y="140.4" width="16.6" height="10.0" fill="#e5545b"/>
<rect x="796.3" y="142.6" width="0.6" height="5.6" fill="#e5545b"/>
<text x="799.6" y="147.4" font-size="5.8" font-weight="700" fill="#23981c" textLength="30" lengthAdjust="spacingAndGlyphs">SELL LIMIT</text>
<text x="835" y="147.4" font-size="5.9" font-weight="700" fill="#fff" textLength="11.4" lengthAdjust="spacingAndGlyphs">0.04</text>
<path d="M851.2 143.5L855 147.3M855 143.5L851.2 147.3" stroke="#e5545b" stroke-width="0.55"/>
<rect x="794" y="165.0" width="64.2" height="10.0" fill="#c9cacc" stroke="#e5545b" stroke-width="0.4"/>
<rect x="832" y="165.0" width="16.6" height="10.0" fill="#e5545b"/>
<rect x="796.3" y="167.2" width="0.6" height="5.6" fill="#e5545b"/>
<text x="799.6" y="172.0" font-size="5.8" font-weight="700" fill="#23981c" textLength="30" lengthAdjust="spacingAndGlyphs">SELL LIMIT</text>
<text x="835" y="172.0" font-size="5.9" font-weight="700" fill="#fff" textLength="11.4" lengthAdjust="spacingAndGlyphs">0.04</text>
<path d="M851.2 168.1L855 171.9M855 168.1L851.2 171.9" stroke="#e5545b" stroke-width="0.55"/>
<rect x="794" y="189.2" width="64.2" height="10.0" fill="#c9cacc" stroke="#e5545b" stroke-width="0.4"/>
<rect x="832" y="189.2" width="16.6" height="10.0" fill="#e5545b"/>
<rect x="796.3" y="191.4" width="0.6" height="5.6" fill="#e5545b"/>
<text x="799.6" y="196.2" font-size="5.8" font-weight="700" fill="#23981c" textLength="30" lengthAdjust="spacingAndGlyphs">SELL LIMIT</text>
<text x="835" y="196.2" font-size="5.9" font-weight="700" fill="#fff" textLength="11.4" lengthAdjust="spacingAndGlyphs">0.04</text>
<path d="M851.2 192.3L855 196.1M855 192.3L851.2 196.1" stroke="#e5545b" stroke-width="0.55"/>
<rect x="794" y="214.2" width="64.2" height="10.0" fill="#c9cacc" stroke="#e5545b" stroke-width="0.4"/>
<rect x="832" y="214.2" width="16.6" height="10.0" fill="#e5545b"/>
<rect x="796.3" y="216.4" width="0.6" height="5.6" fill="#e5545b"/>
<text x="799.6" y="221.2" font-size="5.8" font-weight="700" fill="#23981c" textLength="30" lengthAdjust="spacingAndGlyphs">SELL LIMIT</text>
<text x="835" y="221.2" font-size="5.9" font-weight="700" fill="#fff" textLength="11.4" lengthAdjust="spacingAndGlyphs">0.04</text>
<path d="M851.2 217.3L855 221.1M855 217.3L851.2 221.1" stroke="#e5545b" stroke-width="0.55"/>
<rect x="796" y="263.2" width="62.2" height="10.0" fill="#c9cacc" stroke="#3b97ea" stroke-width="0.4"/>
<rect x="832" y="263.2" width="16.6" height="10.0" fill="#3b97ea"/>
<rect x="798.3" y="265.4" width="0.6" height="5.6" fill="#3b97ea"/>
<text x="801.6" y="270.2" font-size="5.8" font-weight="700" fill="#23981c" textLength="28" lengthAdjust="spacingAndGlyphs">BUY LIMIT</text>
<text x="835" y="270.2" font-size="5.9" font-weight="700" fill="#fff" textLength="11.4" lengthAdjust="spacingAndGlyphs">0.04</text>
<path d="M851.2 266.3L855 270.1M855 266.3L851.2 270.1" stroke="#3b97ea" stroke-width="0.55"/>
<rect x="796" y="288.8" width="62.2" height="10.0" fill="#c9cacc" stroke="#3b97ea" stroke-width="0.4"/>
<rect x="832" y="288.8" width="16.6" height="10.0" fill="#3b97ea"/>
<rect x="798.3" y="291.0" width="0.6" height="5.6" fill="#3b97ea"/>
<text x="801.6" y="295.8" font-size="5.8" font-weight="700" fill="#23981c" textLength="28" lengthAdjust="spacingAndGlyphs">BUY LIMIT</text>
<text x="835" y="295.8" font-size="5.9" font-weight="700" fill="#fff" textLength="11.4" lengthAdjust="spacingAndGlyphs">0.04</text>
<path d="M851.2 291.9L855 295.7M855 291.9L851.2 295.7" stroke="#3b97ea" stroke-width="0.55"/>
<rect x="796" y="310.6" width="62.2" height="10.0" fill="#c9cacc" stroke="#3b97ea" stroke-width="0.4"/>
<rect x="832" y="310.6" width="16.6" height="10.0" fill="#3b97ea"/>
<rect x="798.3" y="312.8" width="0.6" height="5.6" fill="#3b97ea"/>
<text x="801.6" y="317.6" font-size="5.8" font-weight="700" fill="#23981c" textLength="28" lengthAdjust="spacingAndGlyphs">BUY LIMIT</text>
<text x="835" y="317.6" font-size="5.9" font-weight="700" fill="#fff" textLength="11.4" lengthAdjust="spacingAndGlyphs">0.04</text>
<path d="M851.2 313.7L855 317.5M855 313.7L851.2 317.5" stroke="#3b97ea" stroke-width="0.55"/>
<rect x="796" y="335.4" width="62.2" height="10.0" fill="#c9cacc" stroke="#3b97ea" stroke-width="0.4"/>
<rect x="832" y="335.4" width="16.6" height="10.0" fill="#3b97ea"/>
<rect x="798.3" y="337.6" width="0.6" height="5.6" fill="#3b97ea"/>
<text x="801.6" y="342.4" font-size="5.8" font-weight="700" fill="#23981c" textLength="28" lengthAdjust="spacingAndGlyphs">BUY LIMIT</text>
<text x="835" y="342.4" font-size="5.9" font-weight="700" fill="#fff" textLength="11.4" lengthAdjust="spacingAndGlyphs">0.04</text>
<path d="M851.2 338.5L855 342.3M855 338.5L851.2 342.3" stroke="#3b97ea" stroke-width="0.55"/>
<rect x="796" y="359.4" width="62.2" height="10.0" fill="#c9cacc" stroke="#3b97ea" stroke-width="0.4"/>
<rect x="832" y="359.4" width="16.6" height="10.0" fill="#3b97ea"/>
<rect x="798.3" y="361.6" width="0.6" height="5.6" fill="#3b97ea"/>
<text x="801.6" y="366.4" font-size="5.8" font-weight="700" fill="#23981c" textLength="28" lengthAdjust="spacingAndGlyphs">BUY LIMIT</text>
<text x="835" y="366.4" font-size="5.9" font-weight="700" fill="#fff" textLength="11.4" lengthAdjust="spacingAndGlyphs">0.04</text>
<path d="M851.2 362.5L855 366.3M855 362.5L851.2 366.3" stroke="#3b97ea" stroke-width="0.55"/>
<rect x="796" y="383.4" width="62.2" height="10.0" fill="#c9cacc" stroke="#3b97ea" stroke-width="0.4"/>
<rect x="832" y="383.4" width="16.6" height="10.0" fill="#3b97ea"/>
<rect x="798.3" y="385.6" width="0.6" height="5.6" fill="#3b97ea"/>
<text x="801.6" y="390.4" font-size="5.8" font-weight="700" fill="#23981c" textLength="28" lengthAdjust="spacingAndGlyphs">BUY LIMIT</text>
<text x="835" y="390.4" font-size="5.9" font-weight="700" fill="#fff" textLength="11.4" lengthAdjust="spacingAndGlyphs">0.04</text>
<path d="M851.2 386.5L855 390.3M855 386.5L851.2 390.3" stroke="#3b97ea" stroke-width="0.55"/>
<rect x="796" y="407.4" width="62.2" height="10.0" fill="#c9cacc" stroke="#3b97ea" stroke-width="0.4"/>
<rect x="832" y="407.4" width="16.6" height="10.0" fill="#3b97ea"/>
<rect x="798.3" y="409.6" width="0.6" height="5.6" fill="#3b97ea"/>
<text x="801.6" y="414.4" font-size="5.8" font-weight="700" fill="#23981c" textLength="28" lengthAdjust="spacingAndGlyphs">BUY LIMIT</text>
<text x="835" y="414.4" font-size="5.9" font-weight="700" fill="#fff" textLength="11.4" lengthAdjust="spacingAndGlyphs">0.04</text>
<path d="M851.2 410.5L855 414.3M855 410.5L851.2 414.3" stroke="#3b97ea" stroke-width="0.55"/>
<rect x="796" y="432.4" width="62.2" height="10.0" fill="#c9cacc" stroke="#3b97ea" stroke-width="0.4"/>
<rect x="832" y="432.4" width="16.6" height="10.0" fill="#3b97ea"/>
<rect x="798.3" y="434.6" width="0.6" height="5.6" fill="#3b97ea"/>
<text x="801.6" y="439.4" font-size="5.8" font-weight="700" fill="#23981c" textLength="28" lengthAdjust="spacingAndGlyphs">BUY LIMIT</text>
<text x="835" y="439.4" font-size="5.9" font-weight="700" fill="#fff" textLength="11.4" lengthAdjust="spacingAndGlyphs">0.04</text>
<path d="M851.2 435.5L855 439.3M855 435.5L851.2 439.3" stroke="#3b97ea" stroke-width="0.55"/>
<rect x="796" y="456.4" width="62.2" height="10.0" fill="#c9cacc" stroke="#3b97ea" stroke-width="0.4"/>
<rect x="832" y="456.4" width="16.6" height="10.0" fill="#3b97ea"/>
<rect x="798.3" y="458.6" width="0.6" height="5.6" fill="#3b97ea"/>
<text x="801.6" y="463.4" font-size="5.8" font-weight="700" fill="#23981c" textLength="28" lengthAdjust="spacingAndGlyphs">BUY LIMIT</text>
<text x="835" y="463.4" font-size="5.9" font-weight="700" fill="#fff" textLength="11.4" lengthAdjust="spacingAndGlyphs">0.04</text>
<path d="M851.2 459.5L855 463.3M855 459.5L851.2 463.3" stroke="#3b97ea" stroke-width="0.55"/>
<rect x="796" y="480.9" width="62.2" height="10.0" fill="#c9cacc" stroke="#3b97ea" stroke-width="0.4"/>
<rect x="832" y="480.9" width="16.6" height="10.0" fill="#3b97ea"/>
<rect x="798.3" y="483.1" width="0.6" height="5.6" fill="#3b97ea"/>
<text x="801.6" y="487.9" font-size="5.8" font-weight="700" fill="#23981c" textLength="28" lengthAdjust="spacingAndGlyphs">BUY LIMIT</text>
<text x="835" y="487.9" font-size="5.9" font-weight="700" fill="#fff" textLength="11.4" lengthAdjust="spacingAndGlyphs">0.04</text>
<path d="M851.2 484.0L855 487.8M855 484.0L851.2 487.8" stroke="#3b97ea" stroke-width="0.55"/>
<rect x="796" y="504.8" width="62.2" height="10.0" fill="#c9cacc" stroke="#3b97ea" stroke-width="0.4"/>
<rect x="832" y="504.8" width="16.6" height="10.0" fill="#3b97ea"/>
<rect x="798.3" y="507.0" width="0.6" height="5.6" fill="#3b97ea"/>
<text x="801.6" y="511.8" font-size="5.8" font-weight="700" fill="#23981c" textLength="28" lengthAdjust="spacingAndGlyphs">BUY LIMIT</text>
<text x="835" y="511.8" font-size="5.9" font-weight="700" fill="#fff" textLength="11.4" lengthAdjust="spacingAndGlyphs">0.04</text>
<path d="M851.2 507.9L855 511.7M855 507.9L851.2 511.7" stroke="#3b97ea" stroke-width="0.55"/>
</g>
<rect x="471" y="93" width="61.4" height="8.2" fill="#a3a3aa"/>
<text x="473" y="99.2" font-size="5.6" fill="#30323a" textLength="55" lengthAdjust="spacingAndGlyphs">Exit Full Screen (ESC)</text>
<text x="82.4" y="105.8" font-size="8.4" fill="#d1d4dc" textLength="106.4" lengthAdjust="spacingAndGlyphs">Ethereum / Tether, 5, FTX TR</text>
<path d="M191.5 102.3l1.3 1.3l1.3-1.3" stroke="#d1d4dc" stroke-width="0.6" fill="none"/>
<text x="210.8" y="105.8" font-size="8.3" fill="#d1d4dc" textLength="5.2" lengthAdjust="spacingAndGlyphs">O</text>
<text x="216.3" y="105.8" font-size="8.3" fill="#26a69a" textLength="23.5" lengthAdjust="spacingAndGlyphs">1470.7</text>
<text x="244.9" y="105.8" font-size="8.3" fill="#d1d4dc" textLength="5" lengthAdjust="spacingAndGlyphs">H</text>
<text x="250.2" y="105.8" font-size="8.3" fill="#26a69a" textLength="23.3" lengthAdjust="spacingAndGlyphs">1472.4</text>
<text x="278.3" y="105.8" font-size="8.3" fill="#d1d4dc" textLength="4" lengthAdjust="spacingAndGlyphs">L</text>
<text x="282.7" y="105.8" font-size="8.3" fill="#26a69a" textLength="23.8" lengthAdjust="spacingAndGlyphs">1470.7</text>
<text x="312" y="105.8" font-size="8.3" fill="#d1d4dc" textLength="5" lengthAdjust="spacingAndGlyphs">C</text>
<text x="317.2" y="105.8" font-size="8.3" fill="#26a69a" textLength="23" lengthAdjust="spacingAndGlyphs">1472.2</text>
<text x="346.1" y="105.8" font-size="8.3" fill="#26a69a" textLength="46.9" lengthAdjust="spacingAndGlyphs">+1.5 (+0.10%)</text>
<rect x="900.3" y="93.5" width="24.7" height="459.5" fill="#131722"/>
<line x1="900.5" x2="900.5" y1="93.5" y2="553" stroke="#2e323e" stroke-width="0.9"/>
<line x1="900.3" x2="902" y1="101.3" y2="101.3" stroke="#50535e" stroke-width="0.5"/>
<text x="905" y="103.4" font-size="6" fill="#dfe1e7" textLength="16" lengthAdjust="spacingAndGlyphs">1504.0</text>
<line x1="900.3" x2="902" y1="118.0" y2="118.0" stroke="#50535e" stroke-width="0.5"/>
<text x="905" y="120.1" font-size="6" fill="#dfe1e7" textLength="16" lengthAdjust="spacingAndGlyphs">1500.0</text>
<line x1="900.3" x2="902" y1="134.7" y2="134.7" stroke="#50535e" stroke-width="0.5"/>
<text x="905" y="136.8" font-size="6" fill="#dfe1e7" textLength="16" lengthAdjust="spacingAndGlyphs">1496.0</text>
<line x1="900.3" x2="902" y1="151.5" y2="151.5" stroke="#50535e" stroke-width="0.5"/>
<text x="905" y="153.6" font-size="6" fill="#dfe1e7" textLength="16" lengthAdjust="spacingAndGlyphs">1492.0</text>
<line x1="900.3" x2="902" y1="168.2" y2="168.2" stroke="#50535e" stroke-width="0.5"/>
<text x="905" y="170.3" font-size="6" fill="#dfe1e7" textLength="16" lengthAdjust="spacingAndGlyphs">1488.0</text>
<line x1="900.3" x2="902" y1="184.9" y2="184.9" stroke="#50535e" stroke-width="0.5"/>
<text x="905" y="187.0" font-size="6" fill="#dfe1e7" textLength="16" lengthAdjust="spacingAndGlyphs">1484.0</text>
<line x1="900.3" x2="902" y1="201.6" y2="201.6" stroke="#50535e" stroke-width="0.5"/>
<text x="905" y="203.7" font-size="6" fill="#dfe1e7" textLength="16" lengthAdjust="spacingAndGlyphs">1480.0</text>
<line x1="900.3" x2="902" y1="218.3" y2="218.3" stroke="#50535e" stroke-width="0.5"/>
<text x="905" y="220.4" font-size="6" fill="#dfe1e7" textLength="16" lengthAdjust="spacingAndGlyphs">1476.0</text>
<line x1="900.3" x2="902" y1="235.1" y2="235.1" stroke="#50535e" stroke-width="0.5"/>
<text x="905" y="237.2" font-size="6" fill="#dfe1e7" textLength="16" lengthAdjust="spacingAndGlyphs">1472.0</text>
<line x1="900.3" x2="902" y1="251.8" y2="251.8" stroke="#50535e" stroke-width="0.5"/>
<text x="905" y="253.9" font-size="6" fill="#dfe1e7" textLength="16" lengthAdjust="spacingAndGlyphs">1468.0</text>
<line x1="900.3" x2="902" y1="268.5" y2="268.5" stroke="#50535e" stroke-width="0.5"/>
<text x="905" y="270.6" font-size="6" fill="#dfe1e7" textLength="16" lengthAdjust="spacingAndGlyphs">1464.0</text>
<line x1="900.3" x2="902" y1="285.2" y2="285.2" stroke="#50535e" stroke-width="0.5"/>
<text x="905" y="287.3" font-size="6" fill="#dfe1e7" textLength="16" lengthAdjust="spacingAndGlyphs">1460.0</text>
<line x1="900.3" x2="902" y1="301.9" y2="301.9" stroke="#50535e" stroke-width="0.5"/>
<text x="905" y="304.0" font-size="6" fill="#dfe1e7" textLength="16" lengthAdjust="spacingAndGlyphs">1456.0</text>
<line x1="900.3" x2="902" y1="318.7" y2="318.7" stroke="#50535e" stroke-width="0.5"/>
<text x="905" y="320.8" font-size="6" fill="#dfe1e7" textLength="16" lengthAdjust="spacingAndGlyphs">1452.0</text>
<line x1="900.3" x2="902" y1="335.4" y2="335.4" stroke="#50535e" stroke-width="0.5"/>
<text x="905" y="337.5" font-size="6" fill="#dfe1e7" textLength="16" lengthAdjust="spacingAndGlyphs">1448.0</text>
<line x1="900.3" x2="902" y1="352.1" y2="352.1" stroke="#50535e" stroke-width="0.5"/>
<text x="905" y="354.2" font-size="6" fill="#dfe1e7" textLength="16" lengthAdjust="spacingAndGlyphs">1444.0</text>
<line x1="900.3" x2="902" y1="368.8" y2="368.8" stroke="#50535e" stroke-width="0.5"/>
<text x="905" y="370.9" font-size="6" fill="#dfe1e7" textLength="16" lengthAdjust="spacingAndGlyphs">1440.0</text>
<line x1="900.3" x2="902" y1="385.5" y2="385.5" stroke="#50535e" stroke-width="0.5"/>
<text x="905" y="387.6" font-size="6" fill="#dfe1e7" textLength="16" lengthAdjust="spacingAndGlyphs">1436.0</text>
<line x1="900.3" x2="902" y1="402.3" y2="402.3" stroke="#50535e" stroke-width="0.5"/>
<text x="905" y="404.4" font-size="6" fill="#dfe1e7" textLength="16" lengthAdjust="spacingAndGlyphs">1432.0</text>
<line x1="900.3" x2="902" y1="419.0" y2="419.0" stroke="#50535e" stroke-width="0.5"/>
<text x="905" y="421.1" font-size="6" fill="#dfe1e7" textLength="16" lengthAdjust="spacingAndGlyphs">1428.0</text>
<line x1="900.3" x2="902" y1="435.7" y2="435.7" stroke="#50535e" stroke-width="0.5"/>
<text x="905" y="437.8" font-size="6" fill="#dfe1e7" textLength="16" lengthAdjust="spacingAndGlyphs">1424.0</text>
<line x1="900.3" x2="902" y1="452.4" y2="452.4" stroke="#50535e" stroke-width="0.5"/>
<text x="905" y="454.5" font-size="6" fill="#dfe1e7" textLength="16" lengthAdjust="spacingAndGlyphs">1420.0</text>
<line x1="900.3" x2="902" y1="469.1" y2="469.1" stroke="#50535e" stroke-width="0.5"/>
<text x="905" y="471.2" font-size="6" fill="#dfe1e7" textLength="16" lengthAdjust="spacingAndGlyphs">1416.0</text>
<line x1="900.3" x2="902" y1="485.9" y2="485.9" stroke="#50535e" stroke-width="0.5"/>
<text x="905" y="488.0" font-size="6" fill="#dfe1e7" textLength="16" lengthAdjust="spacingAndGlyphs">1412.0</text>
<line x1="900.3" x2="902" y1="502.6" y2="502.6" stroke="#50535e" stroke-width="0.5"/>
<text x="905" y="504.7" font-size="6" fill="#dfe1e7" textLength="16" lengthAdjust="spacingAndGlyphs">1408.0</text>
<line x1="900.3" x2="902" y1="519.3" y2="519.3" stroke="#50535e" stroke-width="0.5"/>
<text x="905" y="521.4" font-size="6" fill="#dfe1e7" textLength="16" lengthAdjust="spacingAndGlyphs">1404.0</text>
<line x1="900.3" x2="902" y1="536.0" y2="536.0" stroke="#50535e" stroke-width="0.5"/>
<text x="905" y="538.1" font-size="6" fill="#dfe1e7" textLength="16" lengthAdjust="spacingAndGlyphs">1400.0</text>
<rect x="900.3" y="117.4" width="24.7" height="8.4" fill="#e5545b"/>
<line x1="900.3" x2="902" y1="121.6" y2="121.6" stroke="#fff" stroke-width="0.5" opacity=".7"/>
<text x="905" y="123.7" font-size="6" fill="#fff" textLength="16" lengthAdjust="spacingAndGlyphs" font-weight="700">1499.2</text>
<rect x="900.3" y="141.2" width="24.7" height="8.4" fill="#e5545b"/>
<line x1="900.3" x2="902" y1="145.4" y2="145.4" stroke="#fff" stroke-width="0.5" opacity=".7"/>
<text x="905" y="147.5" font-size="6" fill="#fff" textLength="16" lengthAdjust="spacingAndGlyphs" font-weight="700">1493.4</text>
<rect x="900.3" y="165.8" width="24.7" height="8.4" fill="#e5545b"/>
<line x1="900.3" x2="902" y1="170.0" y2="170.0" stroke="#fff" stroke-width="0.5" opacity=".7"/>
<text x="905" y="172.1" font-size="6" fill="#fff" textLength="16" lengthAdjust="spacingAndGlyphs" font-weight="700">1487.6</text>
<rect x="900.3" y="190.0" width="24.7" height="8.4" fill="#e5545b"/>
<line x1="900.3" x2="902" y1="194.2" y2="194.2" stroke="#fff" stroke-width="0.5" opacity=".7"/>
<text x="905" y="196.3" font-size="6" fill="#fff" textLength="16" lengthAdjust="spacingAndGlyphs" font-weight="700">1481.8</text>
<rect x="900.3" y="215.0" width="24.7" height="8.4" fill="#e5545b"/>
<line x1="900.3" x2="902" y1="219.2" y2="219.2" stroke="#fff" stroke-width="0.5" opacity=".7"/>
<text x="905" y="221.3" font-size="6" fill="#fff" textLength="16" lengthAdjust="spacingAndGlyphs" font-weight="700">1475.9</text>
<rect x="900.3" y="264.0" width="24.7" height="8.4" fill="#3b97ea"/>
<line x1="900.3" x2="902" y1="268.2" y2="268.2" stroke="#fff" stroke-width="0.5" opacity=".7"/>
<text x="905" y="270.3" font-size="6" fill="#fff" textLength="16" lengthAdjust="spacingAndGlyphs" font-weight="700">1464.2</text>
<rect x="900.3" y="289.6" width="24.7" height="8.4" fill="#3b97ea"/>
<line x1="900.3" x2="902" y1="293.8" y2="293.8" stroke="#fff" stroke-width="0.5" opacity=".7"/>
<text x="905" y="295.9" font-size="6" fill="#fff" textLength="16" lengthAdjust="spacingAndGlyphs" font-weight="700">1457.9</text>
<rect x="900.3" y="311.4" width="24.7" height="8.4" fill="#3b97ea"/>
<line x1="900.3" x2="902" y1="315.6" y2="315.6" stroke="#fff" stroke-width="0.5" opacity=".7"/>
<text x="905" y="317.7" font-size="6" fill="#fff" textLength="16" lengthAdjust="spacingAndGlyphs" font-weight="700">1452.7</text>
<rect x="900.3" y="336.2" width="24.7" height="8.4" fill="#3b97ea"/>
<line x1="900.3" x2="902" y1="340.4" y2="340.4" stroke="#fff" stroke-width="0.5" opacity=".7"/>
<text x="905" y="342.5" font-size="6" fill="#fff" textLength="16" lengthAdjust="spacingAndGlyphs" font-weight="700">1446.9</text>
<rect x="900.3" y="360.2" width="24.7" height="8.4" fill="#3b97ea"/>
<line x1="900.3" x2="902" y1="364.4" y2="364.4" stroke="#fff" stroke-width="0.5" opacity=".7"/>
<text x="905" y="366.5" font-size="6" fill="#fff" textLength="16" lengthAdjust="spacingAndGlyphs" font-weight="700">1441.1</text>
<rect x="900.3" y="384.2" width="24.7" height="8.4" fill="#3b97ea"/>
<line x1="900.3" x2="902" y1="388.4" y2="388.4" stroke="#fff" stroke-width="0.5" opacity=".7"/>
<text x="905" y="390.5" font-size="6" fill="#fff" textLength="16" lengthAdjust="spacingAndGlyphs" font-weight="700">1435.2</text>
<rect x="900.3" y="408.2" width="24.7" height="8.4" fill="#3b97ea"/>
<line x1="900.3" x2="902" y1="412.4" y2="412.4" stroke="#fff" stroke-width="0.5" opacity=".7"/>
<text x="905" y="414.5" font-size="6" fill="#fff" textLength="16" lengthAdjust="spacingAndGlyphs" font-weight="700">1429.5</text>
<rect x="900.3" y="433.2" width="24.7" height="8.4" fill="#3b97ea"/>
<line x1="900.3" x2="902" y1="437.4" y2="437.4" stroke="#fff" stroke-width="0.5" opacity=".7"/>
<text x="905" y="439.5" font-size="6" fill="#fff" textLength="16" lengthAdjust="spacingAndGlyphs" font-weight="700">1423.6</text>
<rect x="900.3" y="457.2" width="24.7" height="8.4" fill="#3b97ea"/>
<line x1="900.3" x2="902" y1="461.4" y2="461.4" stroke="#fff" stroke-width="0.5" opacity=".7"/>
<text x="905" y="463.5" font-size="6" fill="#fff" textLength="16" lengthAdjust="spacingAndGlyphs" font-weight="700">1417.8</text>
<rect x="900.3" y="481.7" width="24.7" height="8.4" fill="#3b97ea"/>
<line x1="900.3" x2="902" y1="485.9" y2="485.9" stroke="#fff" stroke-width="0.5" opacity=".7"/>
<text x="905" y="488.0" font-size="6" fill="#fff" textLength="16" lengthAdjust="spacingAndGlyphs" font-weight="700">1412.0</text>
<rect x="900.3" y="505.6" width="24.7" height="8.4" fill="#3b97ea"/>
<line x1="900.3" x2="902" y1="509.8" y2="509.8" stroke="#fff" stroke-width="0.5" opacity=".7"/>
<text x="905" y="511.9" font-size="6" fill="#fff" textLength="16" lengthAdjust="spacingAndGlyphs" font-weight="700">1406.2</text>
<rect x="900.3" y="230.3" width="24.7" height="8.4" fill="#26a69a"/>
<line x1="900.3" x2="902" y1="234.5" y2="234.5" stroke="#fff" stroke-width="0.5" opacity=".7"/>
<text x="905" y="236.6" font-size="6" fill="#fff" textLength="16" lengthAdjust="spacingAndGlyphs" font-weight="700">1472.2</text>
<line x1="122.5" x2="122.5" y1="540.5" y2="542.3" stroke="#50535e" stroke-width="0.5"/>
<text x="116.5" y="549.1" font-size="6" fill="#cdd0d8" textLength="12" lengthAdjust="spacingAndGlyphs">03:00</text>
<line x1="176.3" x2="176.3" y1="540.5" y2="542.3" stroke="#50535e" stroke-width="0.5"/>
<text x="170.3" y="549.1" font-size="6" fill="#cdd0d8" textLength="12" lengthAdjust="spacingAndGlyphs">04:30</text>
<line x1="230.1" x2="230.1" y1="540.5" y2="542.3" stroke="#50535e" stroke-width="0.5"/>
<text x="224.1" y="549.1" font-size="6" fill="#cdd0d8" textLength="12" lengthAdjust="spacingAndGlyphs">06:00</text>
<line x1="283.8" x2="283.8" y1="540.5" y2="542.3" stroke="#50535e" stroke-width="0.5"/>
<text x="277.8" y="549.1" font-size="6" fill="#cdd0d8" textLength="12" lengthAdjust="spacingAndGlyphs">07:30</text>
<line x1="337.6" x2="337.6" y1="540.5" y2="542.3" stroke="#50535e" stroke-width="0.5"/>
<text x="331.6" y="549.1" font-size="6" fill="#cdd0d8" textLength="12" lengthAdjust="spacingAndGlyphs">09:00</text>
<line x1="391.4" x2="391.4" y1="540.5" y2="542.3" stroke="#50535e" stroke-width="0.5"/>
<text x="385.4" y="549.1" font-size="6" fill="#cdd0d8" textLength="12" lengthAdjust="spacingAndGlyphs">10:30</text>
<line x1="445.2" x2="445.2" y1="540.5" y2="542.3" stroke="#50535e" stroke-width="0.5"/>
<text x="439.2" y="549.1" font-size="6" fill="#cdd0d8" textLength="12" lengthAdjust="spacingAndGlyphs">12:00</text>
<line x1="498.9" x2="498.9" y1="540.5" y2="542.3" stroke="#50535e" stroke-width="0.5"/>
<text x="492.9" y="549.1" font-size="6" fill="#cdd0d8" textLength="12" lengthAdjust="spacingAndGlyphs">13:30</text>
<line x1="552.7" x2="552.7" y1="540.5" y2="542.3" stroke="#50535e" stroke-width="0.5"/>
<text x="546.7" y="549.1" font-size="6" fill="#cdd0d8" textLength="12" lengthAdjust="spacingAndGlyphs">15:00</text>
<line x1="591.6" x2="591.6" y1="540.5" y2="542.3" stroke="#50535e" stroke-width="0.5"/>
<text x="585.6" y="549.1" font-size="6" fill="#cdd0d8" textLength="12" lengthAdjust="spacingAndGlyphs">16:05</text>
<line x1="660.3" x2="660.3" y1="540.5" y2="542.3" stroke="#50535e" stroke-width="0.5"/>
<text x="654.3" y="549.1" font-size="6" fill="#cdd0d8" textLength="12" lengthAdjust="spacingAndGlyphs">18:00</text>
<line x1="714.0" x2="714.0" y1="540.5" y2="542.3" stroke="#50535e" stroke-width="0.5"/>
<text x="708.0" y="549.1" font-size="6" fill="#cdd0d8" textLength="12" lengthAdjust="spacingAndGlyphs">19:30</text>
<line x1="767.8" x2="767.8" y1="540.5" y2="542.3" stroke="#50535e" stroke-width="0.5"/>
<text x="761.8" y="549.1" font-size="6" fill="#cdd0d8" textLength="12" lengthAdjust="spacingAndGlyphs">21:00</text>
<line x1="821.6" x2="821.6" y1="540.5" y2="542.3" stroke="#50535e" stroke-width="0.5"/>
<text x="815.6" y="549.1" font-size="6" fill="#cdd0d8" textLength="12" lengthAdjust="spacingAndGlyphs">22:30</text>
<line x1="875.4" x2="875.4" y1="540.5" y2="542.3" stroke="#50535e" stroke-width="0.5"/>
<text x="872.7" y="549.1" font-size="6" fill="#cdd0d8" textLength="5.4" lengthAdjust="spacingAndGlyphs" font-weight="700">28</text>
<circle cx="912" cy="546.5" r="2.5" fill="none" stroke="#9094a1" stroke-width="0.65" stroke-dasharray="6.85 1" stroke-dashoffset="-4.43"/>
<path d="M907.8 546.5h1.7M914.5 546.5h1.7" stroke="#9da1ad" stroke-width="0.7" fill="none"/>
<circle cx="87.2" cy="524.9" r="8.1" fill="#2c2f3c"/>
<g fill="#38b3f8"><circle cx="83.8" cy="526" r="2"/><circle cx="86.3" cy="523.8" r="2.9"/><circle cx="90.2" cy="524.7" r="2.3"/><circle cx="91.3" cy="526.2" r="1.8"/><rect x="83.6" y="524.5" width="7.8" height="3.5"/></g>
<path d="M82.9 525.6L85.6 523.3L88.4 526.4L91.1 524.1" stroke="#2c2f3c" stroke-width="0.6" fill="none"/>
<circle cx="85.7" cy="523.3" r="0.55" fill="#2c2f3c"/>
<rect x="75" y="553" width="850" height="19" fill="#131722"/>
<text x="82.9" y="565.2" font-size="7.3" fill="#747988" textLength="7" lengthAdjust="spacingAndGlyphs">5y</text>
<text x="97.1" y="565.2" font-size="7.3" fill="#747988" textLength="7" lengthAdjust="spacingAndGlyphs">1y</text>
<text x="110.9" y="565.2" font-size="7.3" fill="#747988" textLength="9.4" lengthAdjust="spacingAndGlyphs">6m</text>
<text x="127.3" y="565.2" font-size="7.3" fill="#747988" textLength="9.4" lengthAdjust="spacingAndGlyphs">3m</text>
<text x="143.9" y="565.2" font-size="7.3" fill="#747988" textLength="9.4" lengthAdjust="spacingAndGlyphs">1m</text>
<text x="160.2" y="565.2" font-size="7.3" fill="#747988" textLength="7.6" lengthAdjust="spacingAndGlyphs">5d</text>
<text x="174.8" y="565.2" font-size="7.3" fill="#747988" textLength="7.6" lengthAdjust="spacingAndGlyphs">1d</text>
<line x1="190.4" x2="190.4" y1="557" y2="567.7" stroke="#2f3340" stroke-width="0.6"/>
<text x="199" y="565.2" font-size="7.3" fill="#747988" textLength="24" lengthAdjust="spacingAndGlyphs">Go to...</text>
<text x="804.8" y="565.2" font-size="7.3" fill="#6c7384" textLength="54.4" lengthAdjust="spacingAndGlyphs">16:30:16 (UTC+3)</text>
<line x1="867.4" x2="867.4" y1="557" y2="567.7" stroke="#2f3340" stroke-width="0.6"/>
<text x="875.6" y="565.2" font-size="7.3" fill="#9a9da7" textLength="6.6" lengthAdjust="spacingAndGlyphs">%</text>
<text x="889" y="565.2" font-size="7.3" fill="#9a9da7" textLength="10.6" lengthAdjust="spacingAndGlyphs">log</text>
<text x="905.5" y="565.2" font-size="7.3" fill="#9a9da7" textLength="14.6" lengthAdjust="spacingAndGlyphs">auto</text>
</g></svg></body></html>
